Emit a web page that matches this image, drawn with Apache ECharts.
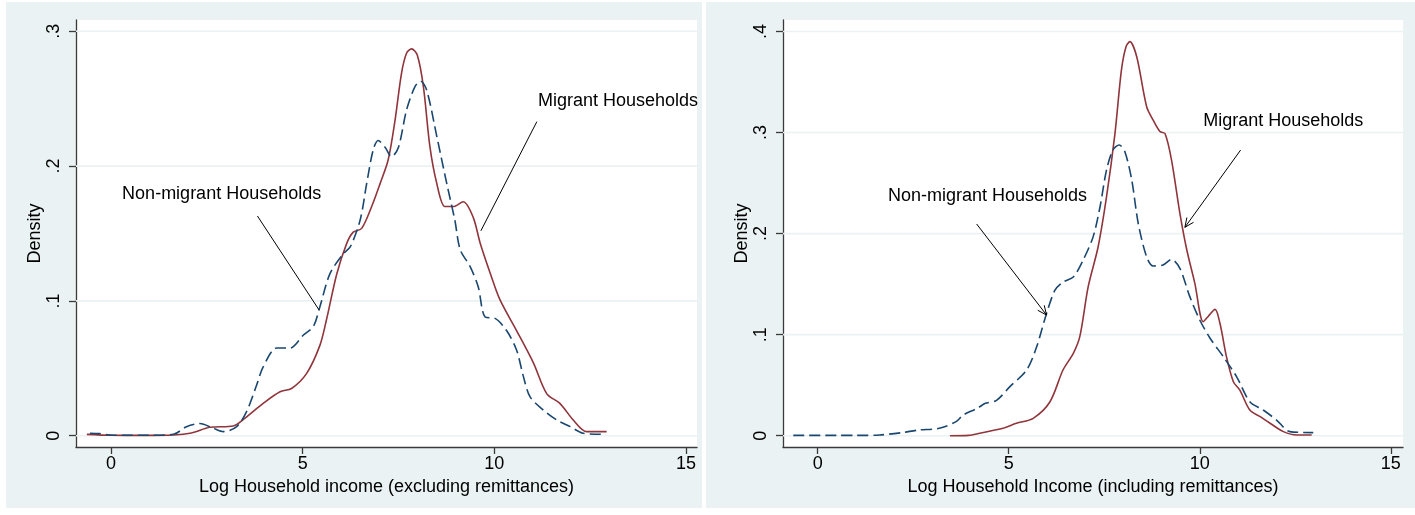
<!DOCTYPE html>
<html>
<head>
<meta charset="utf-8">
<title>Household income densities</title>
<script src="https://cdn.jsdelivr.net/npm/echarts@6/dist/echarts.min.js"></script>
<style>
  html, body { margin: 0; padding: 0; background: #ffffff; }
  #chart { width: 1415px; height: 515px; }
</style>
</head>
<body>
<div id="chart"></div>
<script>
// Tick values shared by both panels
const xTicks = [0, 5, 10, 15];
const yTicksLeft = [0, 0.1, 0.2, 0.3];
const yTicksRight = [0, 0.1, 0.2, 0.3, 0.4];

// Kernel density of log income excluding remittances: [log income, density]
const exclMigrant = [
  [-0.63, 0.001], [0, 0.0003], [0.8, 0.0002], [1.63, 0.0005], [2.1, 0.002],
  [2.58, 0.0062], [3.19, 0.0072], [3.54, 0.014], [3.97, 0.024], [4.41, 0.0326],
  [4.71, 0.035], [5.1, 0.046], [5.45, 0.067], [5.62, 0.0858], [5.89, 0.12],
  [6.15, 0.1427], [6.32, 0.151], [6.54, 0.1538], [6.8, 0.17], [7.02, 0.187],
  [7.23, 0.2045], [7.41, 0.234], [7.58, 0.269], [7.71, 0.2837], [7.84, 0.287],
  [7.99, 0.2824], [8.15, 0.259], [8.32, 0.2144], [8.5, 0.187], [8.71, 0.17],
  [8.93, 0.17], [9.19, 0.1736], [9.45, 0.162], [9.63, 0.143], [9.9, 0.12],
  [10.15, 0.1007], [10.58, 0.078], [11.02, 0.054], [11.37, 0.031], [11.71, 0.024],
  [12.06, 0.0116], [12.41, 0.003], [12.93, 0.003]
];
const exclNonMigrant = [
  [-0.55, 0.0018], [-0.3, 0.0015], [0.05, 0.0003], [1.0, 0.0003], [1.63, 0.001],
  [1.97, 0.0067], [2.32, 0.009], [2.67, 0.0055], [2.93, 0.003], [3.28, 0.0067],
  [3.54, 0.018], [3.8, 0.0376], [3.97, 0.051], [4.32, 0.065], [4.67, 0.065],
  [5.02, 0.0747], [5.28, 0.081], [5.45, 0.0957], [5.71, 0.12], [6.06, 0.135],
  [6.24, 0.14], [6.5, 0.16], [6.67, 0.187], [6.84, 0.212], [6.97, 0.219],
  [7.15, 0.214], [7.32, 0.207], [7.5, 0.214], [7.71, 0.2416], [7.93, 0.259],
  [8.08, 0.263], [8.24, 0.256], [8.5, 0.222], [8.76, 0.187], [8.97, 0.16],
  [9.11, 0.138], [9.37, 0.1254], [9.58, 0.1105], [9.76, 0.088], [10.02, 0.087],
  [10.32, 0.078], [10.58, 0.0636], [10.76, 0.0438], [10.93, 0.029], [11.28, 0.019],
  [11.63, 0.0116], [11.98, 0.0067], [12.32, 0.0018], [12.84, 0.001]
];

// Kernel density of log income including remittances: [log income, density]
const inclMigrant = [
  [3.46, 0], [3.95, 0.0003], [4.24, 0.0024], [4.85, 0.0073], [5.2, 0.0123],
  [5.64, 0.0172], [6.08, 0.0336], [6.42, 0.065], [6.69, 0.0815], [6.86, 0.098],
  [7.08, 0.1475], [7.34, 0.187], [7.56, 0.2365], [7.78, 0.299], [7.95, 0.362],
  [8.07, 0.385], [8.17, 0.39], [8.35, 0.375], [8.61, 0.3256], [8.78, 0.3124],
  [8.96, 0.301], [9.09, 0.299], [9.26, 0.273], [9.48, 0.22], [9.66, 0.184],
  [9.87, 0.151], [10.09, 0.1128], [10.22, 0.118], [10.4, 0.125], [10.53, 0.111],
  [10.7, 0.078], [10.88, 0.0534], [11.05, 0.045], [11.31, 0.0254], [11.58, 0.0188],
  [11.84, 0.0123], [12.19, 0.004], [12.54, 0.0007], [12.93, 0.0007]
];
const inclNonMigrant = [
  [-0.64, 0.0003], [0.5, 0.0003], [1.0, 0.0003], [1.62, 0.0007], [2.2, 0.003],
  [2.64, 0.0056], [3.18, 0.0073], [3.62, 0.0139], [3.81, 0.0205], [4.17, 0.027],
  [4.39, 0.032], [4.68, 0.035], [5.03, 0.0485], [5.47, 0.065], [5.73, 0.088],
  [5.99, 0.121], [6.21, 0.144], [6.42, 0.152], [6.69, 0.157], [6.95, 0.174],
  [7.21, 0.197], [7.39, 0.2266], [7.56, 0.263], [7.73, 0.283], [7.89, 0.2877],
  [8.04, 0.281], [8.22, 0.253], [8.39, 0.21], [8.61, 0.177], [8.78, 0.168],
  [9.04, 0.169], [9.26, 0.1745], [9.48, 0.1656], [9.74, 0.1376], [10.0, 0.1145],
  [10.27, 0.0964], [10.62, 0.078], [10.97, 0.058], [11.31, 0.0336], [11.66, 0.0254],
  [12.01, 0.0155], [12.36, 0.004], [12.97, 0.003]
];

// Curve labels and their pointer lines, in data units
const leftNotes = [
  { text: 'Non-migrant Households', x: 0.29, y: 0.1793 },
  { text: 'Migrant Households', x: 11.14, y: 0.2483 }
];
const leftPointers = [
  [3.82, 0.163, 5.43, 0.0932, 0],
  [11.11, 0.233, 9.65, 0.152, 0]
];
const rightNotes = [
  { text: 'Non-migrant Households', x: 1.84, y: 0.2375 },
  { text: 'Migrant Households', x: 10.09, y: 0.3117 }
];
const rightPointers = [
  [4.16, 0.2095, 5.99, 0.1194, 1],
  [11.07, 0.2827, 9.61, 0.2062, 1]
];

const xTitleLeft = 'Log Household income (excluding remittances)';
const xTitleRight = 'Log Household Income (including remittances)';
const yTitle = 'Density';

// ---- styling ----
const FONT = "'Liberation Sans', Arial, Helvetica, sans-serif";
const NAVY = '#1a476f';
const MAROON = '#90353b';
const PANEL_BG = '#eaf2f3';
const GRID_LINE = '#eaf2f3';
const AXIS = '#3a3a3a';

const plots = [
  { left: 76, top: 20, width: 621, height: 427, xmin: -0.913, xmax: 15.288, ymin: -0.0084, ymax: 0.3084 },
  { left: 783, top: 20, width: 620, height: 427, xmin: -0.909, xmax: 15.32, ymin: -0.0112, ymax: 0.4114 }
];

function fmtY(v) {
  if (v === 0) return '0';
  return String(+v.toFixed(2)).replace(/^0/, '');
}

function xAxisFor(i, title) {
  const p = plots[i];
  return {
    type: 'value', gridIndex: i, min: p.xmin, max: p.xmax,
    name: title, nameLocation: 'middle', nameGap: 29,
    nameTextStyle: { fontFamily: FONT, fontSize: 18, color: '#000' },
    axisLine: { show: true, onZero: false, lineStyle: { color: AXIS, width: 1.3 } },
    axisTick: { show: true, length: 7, customValues: xTicks, lineStyle: { color: AXIS, width: 1.3 } },
    axisLabel: { show: true, customValues: xTicks, margin: 8, fontFamily: FONT, fontSize: 18, color: '#000',
      formatter: v => String(v) },
    splitLine: { show: false }
  };
}

function yAxisFor(i, ticks) {
  const p = plots[i];
  return {
    type: 'value', gridIndex: i, min: p.ymin, max: p.ymax,
    name: yTitle, nameLocation: 'middle', nameGap: 32, nameRotate: 90,
    nameTextStyle: { fontFamily: FONT, fontSize: 18, color: '#000' },
    axisLine: { show: true, onZero: false, lineStyle: { color: AXIS, width: 1.3 } },
    axisTick: { show: true, length: 7, customValues: ticks, lineStyle: { color: AXIS, width: 1.3 } },
    axisLabel: { show: true, customValues: ticks, rotate: 90, margin: 13, fontFamily: FONT, fontSize: 18, color: '#000',
      formatter: fmtY },
    splitLine: { show: false }
  };
}

// Horizontal reference lines at each y tick
function gridLineSeries(i, ticks) {
  const p = plots[i];
  return {
    type: 'custom', xAxisIndex: i, yAxisIndex: i, z: 1, silent: true,
    data: ticks.map(t => [t]),
    encode: { y: 0 },
    renderItem: function (params, api) {
      const y = api.value(0);
      const a = api.coord([p.xmin, y]);
      const b = api.coord([p.xmax, y]);
      return { type: 'line', shape: { x1: a[0], y1: a[1], x2: b[0], y2: b[1] },
        style: { stroke: GRID_LINE, lineWidth: 1.6 } };
    }
  };
}

function curve(i, data, color, dashed) {
  return {
    type: 'line', xAxisIndex: i, yAxisIndex: i, data: data, z: 3,
    showSymbol: false, symbol: 'none', smooth: 0.3, silent: true,
    lineStyle: { color: color, width: 1.6, type: dashed ? [11, 5] : 'solid' }
  };
}

// Pointer lines, with optional open arrowheads at the end point
function pointerSeries(i, rows) {
  return {
    type: 'custom', xAxisIndex: i, yAxisIndex: i, z: 4, silent: true,
    data: rows,
    encode: { x: [0, 2], y: [1, 3] },
    renderItem: function (params, api) {
      const a = api.coord([api.value(0), api.value(1)]);
      const b = api.coord([api.value(2), api.value(3)]);
      const children = [{ type: 'line', shape: { x1: a[0], y1: a[1], x2: b[0], y2: b[1] },
        style: { stroke: '#000', lineWidth: 1 } }];
      if (api.value(4)) {
        const ang = Math.atan2(a[1] - b[1], a[0] - b[0]);
        const len = 10, spread = 0.42;
        [ang - spread, ang + spread].forEach(t => {
          children.push({ type: 'line',
            shape: { x1: b[0], y1: b[1], x2: b[0] + len * Math.cos(t), y2: b[1] + len * Math.sin(t) },
            style: { stroke: '#000', lineWidth: 1 } });
        });
      }
      return { type: 'group', children: children };
    }
  };
}

function noteSeries(i, notes) {
  return {
    type: 'custom', xAxisIndex: i, yAxisIndex: i, z: 4, silent: true,
    data: notes.map(n => [n.x, n.y, n.text]),
    encode: { x: 0, y: 1 },
    renderItem: function (params, api) {
      const pt = api.coord([api.value(0), api.value(1)]);
      return { type: 'text', x: pt[0], y: pt[1],
        style: { text: notes[params.dataIndex].text, fill: '#000', font: '18px ' + FONT,
          align: 'left', verticalAlign: 'middle' } };
    }
  };
}

const chart = echarts.init(document.getElementById('chart'), null, { renderer: 'canvas' });
chart.setOption({
  animation: false,
  backgroundColor: '#ffffff',
  graphic: [
    { type: 'rect', z: -100, shape: { x: 6, y: 2, width: 696, height: 506 }, style: { fill: PANEL_BG } },
    { type: 'rect', z: -100, shape: { x: 706, y: 2, width: 709, height: 506 }, style: { fill: PANEL_BG } },
    { type: 'rect', z: -99, shape: { x: plots[0].left, y: plots[0].top, width: plots[0].width, height: plots[0].height }, style: { fill: '#ffffff' } },
    { type: 'rect', z: -99, shape: { x: plots[1].left, y: plots[1].top, width: plots[1].width, height: plots[1].height }, style: { fill: '#ffffff' } }
  ],
  grid: plots.map(p => ({ left: p.left, top: p.top, width: p.width, height: p.height, containLabel: false, show: false })),
  xAxis: [xAxisFor(0, xTitleLeft), xAxisFor(1, xTitleRight)],
  yAxis: [yAxisFor(0, yTicksLeft), yAxisFor(1, yTicksRight)],
  series: [
    gridLineSeries(0, yTicksLeft),
    gridLineSeries(1, yTicksRight),
    curve(0, exclMigrant, MAROON, false),
    curve(0, exclNonMigrant, NAVY, true),
    curve(1, inclMigrant, MAROON, false),
    curve(1, inclNonMigrant, NAVY, true),
    pointerSeries(0, leftPointers),
    pointerSeries(1, rightPointers),
    noteSeries(0, leftNotes),
    noteSeries(1, rightNotes)
  ]
});
</script>
</body>
</html>
